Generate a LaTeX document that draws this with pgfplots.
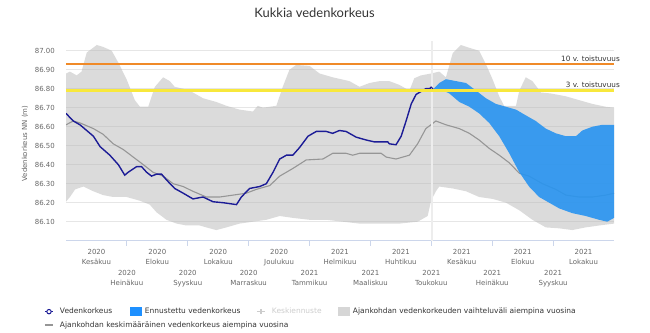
\documentclass[border=0pt]{standalone}
\usepackage{fontspec}
\setmainfont{DejaVu Sans}
\newfontfamily\titlefont{Lato}
\usepackage{pgfplots}
\pgfplotsset{compat=1.18}
\definecolor{navyc}{RGB}{28,28,150}
\definecolor{avgc}{RGB}{150,150,150}
\definecolor{fcst}{RGB}{40,148,240}
\definecolor{legsq}{RGB}{30,144,255}
\definecolor{orangec}{RGB}{240,138,40}
\definecolor{yellowc}{RGB}{248,232,60}
\definecolor{gridc}{RGB}{230,230,230}
\definecolor{axisc}{RGB}{204,214,235}
\definecolor{tickc}{RGB}{102,102,102}
\definecolor{textc}{RGB}{51,51,51}
\definecolor{lightc}{RGB}{204,204,204}
\definecolor{bandleg}{RGB}{214,214,214}
\begin{document}
\begin{tikzpicture}
\useasboundingbox (0,0) rectangle (650bp,333bp);
\node[anchor=base, font=\titlefont\fontsize{13}{15}\selectfont, text=textc, inner sep=0pt] at (314.5bp,315.7bp) {Kukkia vedenkorkeus};
\begin{axis}[
  at={(66bp,92.3bp)}, anchor=south west,
  scale only axis, width=548bp, height=199.5bp,
  xmin=0, xmax=18, ymin=86.0, ymax=87.05,
  clip mode=individual,
  axis x line*=bottom, axis y line*=left,
  y axis line style={draw=none},
  x axis line style={draw=axisc, line width=1bp},
  /pgf/number format/assume math mode=true,
  ytick={86.1,86.2,86.3,86.4,86.5,86.6,86.7,86.8,86.9,87.0},
  ymajorgrids, major grid style={draw=gridc, line width=0.8bp},
  ytick style={draw=none},
  yticklabel style={font=\fontsize{7}{8}\selectfont, text=tickc, inner sep=0pt, anchor=east, xshift=-6bp,
    /pgf/number format/fixed, /pgf/number format/fixed zerofill, /pgf/number format/precision=2},
  tick align=outside, major tick length=5bp,
  xtick={1,3,5,7,9,11,13,15,17},
  xticklabels={{2020\\Kesäkuu},{2020\\Elokuu},{2020\\Lokakuu},{2020\\Joulukuu},{2021\\Helmikuu},{2021\\Huhtikuu},{2021\\Kesäkuu},{2021\\Elokuu},{2021\\Lokakuu}},
  xtick style={draw=none},
  xticklabel style={align=center, font=\fontsize{7}{10}\selectfont, text=tickc, inner sep=0pt, anchor=north, yshift=-3.4bp},
  extra x ticks={2,4,6,8,10,12,14,16},
  extra x tick labels={{2020\\Heinäkuu},{2020\\Syyskuu},{2020\\Marraskuu},{2021\\Tammikuu},{2021\\Maaliskuu},{2021\\Toukokuu},{2021\\Heinäkuu},{2021\\Syyskuu}},
  extra x tick style={grid=none, xtick style={draw=axisc, line width=1bp}, xticklabel style={yshift=-21bp}},
  ylabel={Vedenkorkeus NN (m)},
  ylabel style={at={(axis description cs:-0.0748,0.487)}, anchor=center, font=\fontsize{7}{8}\selectfont, text=tickc, inner sep=0pt},
  legend columns=4,
  legend cell align=left,
  legend style={at={(axis description cs:-0.04197,-0.3223)}, anchor=north west, draw=none, fill=none,
    inner sep=0pt, outer sep=0pt, column sep=0pt, row sep=0pt,
    font=\fontsize{7.5}{9}\selectfont, text=textc,
    nodes={inner sep=0pt, outer sep=0pt, text height=9bp, text depth=4.3bp}},
]
% historical range band
\addplot[forget plot, draw=none, fill=black!28, fill opacity=0.5] coordinates {
(0,86.88)(0.13,86.89)(0.35,86.87)(0.51,86.89)(0.68,86.99)(1.01,87.03)(1.22,87.02)(1.50,87.00)(1.71,86.94)(1.99,86.85)(2.26,86.74)(2.43,86.705)(2.70,86.705)(2.92,86.81)(3.19,86.86)(3.41,86.84)(3.57,86.81)(3.85,86.80)(4.17,86.78)(4.50,86.75)(4.94,86.73)(5.27,86.71)(5.70,86.69)(6.14,86.68)(6.30,86.71)(6.47,86.70)(6.91,86.71)(7.12,86.81)(7.34,86.90)(7.56,86.925)(8.00,86.92)(8.33,86.88)(8.76,86.86)(9.31,86.84)(9.64,86.81)(9.97,86.83)(10.30,86.84)(10.62,86.84)(10.95,86.82)(11.28,86.79)(11.44,86.855)(11.66,86.87)(11.99,86.88)(12.26,86.89)(12.48,86.86)(12.70,86.986)(12.97,87.03)(13.35,87.01)(13.57,87.00)(13.79,86.93)(14.01,86.85)(14.23,86.76)(14.39,86.71)(14.78,86.71)(14.89,86.79)(15.10,86.86)(15.32,86.84)(15.60,86.78)(15.92,86.775)(16.42,86.76)(16.85,86.74)(17.29,86.72)(17.73,86.705)(18,86.70)
(18,86.09)(17.51,86.08)(17.07,86.07)(16.63,86.056)(16.20,86.065)(15.76,86.07)(15.32,86.11)(14.89,86.16)(14.45,86.20)(14.01,86.22)(13.57,86.23)(13.14,86.26)(12.70,86.275)(12.26,86.285)(12.15,86.26)(11.99,86.21)(11.88,86.13)(11.55,86.10)(10.95,86.09)(10.30,86.09)(9.64,86.09)(9.09,86.10)(8.55,86.11)(8.00,86.11)(7.45,86.12)(7.02,86.13)(6.58,86.11)(6.14,86.10)(5.70,86.09)(5.27,86.07)(4.94,86.056)(4.72,86.065)(4.39,86.08)(3.96,86.08)(3.63,86.09)(3.30,86.11)(2.97,86.15)(2.75,86.19)(2.43,86.21)(1.99,86.23)(1.55,86.23)(1.22,86.24)(0.90,86.26)(0.57,86.285)(0.30,86.27)(0.13,86.23)(0,86.205)
} -- cycle;
% average line
\addplot[forget plot, avgc, line width=1.1bp] coordinates {
(0,86.61)(0.24,86.63)(0.46,86.62)(0.90,86.59)(1.22,86.56)(1.55,86.51)(1.88,86.48)(2.21,86.44)(2.54,86.40)(2.86,86.36)(3.19,86.34)(3.52,86.30)(3.85,86.285)(4.17,86.26)(4.61,86.23)(5.05,86.23)(5.49,86.24)(5.92,86.25)(6.25,86.27)(6.69,86.29)(7.02,86.34)(7.45,86.38)(7.89,86.425)(8.44,86.43)(8.76,86.46)(9.20,86.46)(9.42,86.45)(9.64,86.46)(10.08,86.46)(10.35,86.46)(10.52,86.44)(10.84,86.43)(11.28,86.45)(11.55,86.51)(11.82,86.59)(12.15,86.63)(12.48,86.61)(12.92,86.59)(13.25,86.565)(13.57,86.53)(13.90,86.486)(14.23,86.45)(14.56,86.41)(14.89,86.355)(15.21,86.34)(15.65,86.30)(16.09,86.27)(16.42,86.24)(16.85,86.23)(17.29,86.23)(17.73,86.24)(18,86.25)
};
% forecast band
\addplot[forget plot, draw=none, fill=fcst, fill opacity=0.9] coordinates {
(12.02,86.79)(12.26,86.83)(12.48,86.85)(12.81,86.84)(13.14,86.83)(13.47,86.79)(13.79,86.75)(14.12,86.72)(14.45,86.705)(14.78,86.69)(15.10,86.66)(15.43,86.63)(15.76,86.59)(16.09,86.565)(16.42,86.55)(16.75,86.55)(16.96,86.58)(17.29,86.60)(17.62,86.61)(18,86.61)
(18,86.12)(17.78,86.10)(17.51,86.11)(17.07,86.13)(16.63,86.145)(16.20,86.17)(15.87,86.20)(15.54,86.23)(15.21,86.285)(14.89,86.36)(14.56,86.46)(14.23,86.55)(13.90,86.62)(13.57,86.67)(13.25,86.705)(12.92,86.73)(12.59,86.775)(12.26,86.80)(12.02,86.79)
} -- cycle;
% today line
\addplot[forget plot, color=black!7, line width=1.5bp] coordinates {(12.02,86.0)(12.02,87.05)};
% observed water level
\addplot[forget plot, navyc, line width=1.4bp] coordinates {
(0,86.67)(0.24,86.63)(0.46,86.61)(0.68,86.58)(0.90,86.55)(1.12,86.495)(1.44,86.45)(1.72,86.40)(1.93,86.345)(2.04,86.36)(2.32,86.39)(2.48,86.39)(2.65,86.36)(2.81,86.34)(2.97,86.35)(3.14,86.35)(3.30,86.32)(3.57,86.275)(3.85,86.25)(4.17,86.22)(4.50,86.23)(4.83,86.205)(5.16,86.20)(5.60,86.19)(5.76,86.23)(6.03,86.275)(6.36,86.285)(6.58,86.30)(6.80,86.36)(7.02,86.43)(7.24,86.45)(7.45,86.45)(7.67,86.49)(7.95,86.55)(8.22,86.575)(8.55,86.575)(8.76,86.565)(8.98,86.58)(9.20,86.575)(9.53,86.545)(9.86,86.53)(10.13,86.52)(10.57,86.52)(10.62,86.51)(10.84,86.505)(11.01,86.55)(11.18,86.635)(11.34,86.72)(11.50,86.77)(11.66,86.785)(11.82,86.80)(11.99,86.80)
};
\addplot[forget plot, navyc, only marks, mark=o, mark size=1.8bp, mark options={line width=0.9bp, fill=white}] coordinates {(11.99,86.80)};
% return period lines
\addplot[forget plot, orangec, line width=1.6bp] coordinates {(0,86.93)(18,86.93)};
\addplot[forget plot, yellowc, line width=3bp] coordinates {(0,86.79)(18,86.79)};
\node[anchor=south east, inner sep=0pt, font=\fontsize{7.3}{8}\selectfont, text=textc] at (axis cs:18,86.93) [xshift=6bp, yshift=2.6bp] {10 v. toistuvuus};
\node[anchor=south east, inner sep=0pt, font=\fontsize{7.3}{8}\selectfont, text=textc] at (axis cs:18,86.79) [xshift=6bp, yshift=2.8bp] {3 v. toistuvuus};
% legend
\addlegendimage{draw=none, fill=none, mark=none, legend image code/.code={%
  \path[draw=none, fill=none] (0bp,-2.7bp) rectangle (15bp,2.7bp);
  \draw[navyc, line width=1.3bp] (2bp,0) -- (10bp,0);
  \draw[navyc, line width=1bp, fill=white] (6bp,0) circle (2.2bp);}}
\addlegendentry{\makebox[70bp][l]{\hspace{2bp}Vedenkorkeus}}
\addlegendimage{draw=none, fill=none, mark=none, legend image code/.code={%
  \path[draw=none, fill=none] (0bp,-2.7bp) rectangle (15bp,2.7bp);
  \fill[legsq, draw=none] (2bp,-4.5bp) rectangle (14bp,4.5bp);}}
\addlegendentry{\makebox[112bp][l]{\hspace{2bp}Ennustettu vedenkorkeus}}
\addlegendimage{draw=none, fill=none, mark=none, legend image code/.code={%
  \path[draw=none, fill=none] (0bp,-2.7bp) rectangle (15bp,2.7bp);
  \draw[lightc, line width=1.2bp] (2bp,0) -- (10bp,0);
  \draw[lightc, line width=1.2bp] (3.8bp,0) -- (8.2bp,0) (6bp,-2.2bp) -- (6bp,2.2bp);}}
\addlegendentry{\makebox[66bp][l]{\hspace{2bp}\textcolor{lightc}{Keskiennuste}}}
\addlegendimage{draw=none, fill=none, mark=none, legend image code/.code={%
  \path[draw=none, fill=none] (0bp,-2.7bp) rectangle (15bp,2.7bp);
  \fill[bandleg, draw=none] (2bp,-4.5bp) rectangle (14bp,4.5bp);}}
\addlegendentry{\makebox[230bp][l]{\hspace{2bp}Ajankohdan vedenkorkeuden vaihteluväli aiempina vuosina}}
\addlegendimage{draw=none, fill=none, mark=none, legend image code/.code={%
  \path[draw=none, fill=none] (0bp,-2.7bp) rectangle (15bp,2.7bp);
  \draw[avgc, line width=1.3bp] (2bp,0) -- (10bp,0);}}
\addlegendentry{\makebox[70bp][l]{\hspace{2bp}Ajankohdan keskimääräinen vedenkorkeus aiempina vuosina}}
\end{axis}
\end{tikzpicture}
\end{document}
